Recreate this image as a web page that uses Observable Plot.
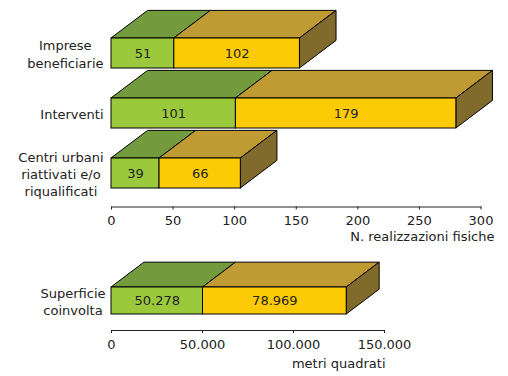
<!DOCTYPE html>
<html><head><meta charset="utf-8">
<script src="https://cdn.jsdelivr.net/npm/d3@7"></script>
<script src="https://cdn.jsdelivr.net/npm/@observablehq/plot@0.6"></script>
<style>
body{margin:0;background:#fff;font-family:"DejaVu Sans",Verdana,sans-serif;}
#chart svg{display:block;}
</style></head><body><div id="chart"></div>
<script>
// ---- data ----
const categories = ["Imprese\nbeneficiarie", "Interventi", "Centri urbani\nriattivati e/o\nriqualificati"];
const series1 = [51, 101, 39];
const series2 = [102, 179, 66];
const xTicks = [0, 50, 100, 150, 200, 250, 300];
const xLabel = "N. realizzazioni fisiche";

const surfaceCategories = ["Superficie\ncoinvolta"];
const surface1 = [50278];
const surface2 = [78969];
const surfaceTicks = [0, 50000, 100000, 150000];
const surfaceLabel = "metri quadrati";

// ---- styles ----
const frontColors = ["#9aca3c", "#fccb05"];
const topColors = ["#739b3e", "#c09a32"];
const sideColor = "#806b2c";
const FONT = "13px 'DejaVu Sans'";

const it = d3.formatLocale({decimal: ",", thousands: ".", grouping: [3], currency: ["€", ""]});
const fmt = it.format(",d");

function stackRows(cats, a, b) {
  const rows = [];
  cats.forEach((c, i) => {
    let x0 = 0;
    [a[i], b[i]].forEach((v, k) => {
      rows.push({cat: c, k, value: v, x1: x0, x2: x0 + v, last: k === 1});
      x0 += v;
    });
  });
  return rows;
}

function depthFaces(rows) {
  return (index, scales) => {
    const {x, y} = scales;
    const bw = y.bandwidth();
    const dx = bw * 1.22, dy = bw * 0.92;
    const g = d3.create("svg:g").attr("stroke", "#000").attr("stroke-width", 1).attr("stroke-linejoin", "round");
    for (const r of rows) {
      const xa = x(r.x1), xb = x(r.x2), yt = y(r.cat), yb = yt + bw;
      g.append("path").attr("fill", topColors[r.k])
        .attr("d", `M${xa},${yt}L${xb},${yt}L${xb + dx},${yt - dy}L${xa + dx},${yt - dy}Z`);
      if (r.last) g.append("path").attr("fill", sideColor)
        .attr("d", `M${xb},${yt}L${xb + dx},${yt - dy}L${xb + dx},${yb - dy}L${xb},${yb}Z`);
    }
    return g.node();
  };
}

const ctx = document.createElement("canvas").getContext("2d");
ctx.font = FONT;
const textWidth = s => d3.max(s.split("\n"), l => ctx.measureText(l).width);

function panel({cats, a, b, ticks, label, height, marginRight, marginBottom, yRange, paddingInner, gap, labelDx, labelDy}) {
  const rows = stackRows(cats, a, b);
  return Plot.plot({
    width: 508,
    height,
    marginLeft: 111,
    marginRight,
    marginTop: 0,
    marginBottom,
    style: {fontSize: "13px", fontFamily: "'DejaVu Sans', Verdana, sans-serif", color: "#222", background: "#fff"},
    x: {domain: [ticks[0], ticks[ticks.length - 1]], ticks, tickFormat: fmt, line: true, label: null, tickSize: 3, tickPadding: 6},
    y: {domain: cats, range: yRange, paddingInner, paddingOuter: 0, axis: null},
    marks: [
      depthFaces(rows),
      Plot.barX(rows.filter(d => d.k === 0), {x1: "x1", x2: "x2", y: "cat", fill: frontColors[0], stroke: "#000", strokeWidth: 1}),
      Plot.barX(rows.filter(d => d.k === 1), {x1: "x1", x2: "x2", y: "cat", fill: frontColors[1], stroke: "#000", strokeWidth: 1}),
      Plot.text(rows, {x: d => (d.x1 + d.x2) / 2, y: "cat", text: d => fmt(d.value), fill: "#222", fontSize: 13}),
      ...cats.map(c => Plot.text([c], {y: d => d, text: d => d, frameAnchor: "left", textAnchor: "middle",
        dx: -gap - textWidth(c) / 2, lineHeight: 1.33, fill: "#222", fontSize: 13})),
      Plot.text([label], {text: d => d, frameAnchor: "bottom-right", textAnchor: "end", dx: labelDx, dy: labelDy, fill: "#222", fontSize: 13})
    ]
  });
}

const root = document.getElementById("chart");
root.appendChild(panel({
  cats: categories, a: series1, b: series2, ticks: xTicks, label: xLabel,
  height: 252, marginRight: 27.5, marginBottom: 45.5, yRange: [37.3, 189.3], paddingInner: 0.5,
  gap: 8, labelDx: 13.5, labelDy: 34
}));
root.appendChild(panel({
  cats: surfaceCategories, a: surface1, b: surface2, ticks: surfaceTicks, label: surfaceLabel,
  height: 124, marginRight: 124, marginBottom: 46, yRange: [35.3, 62.3], paddingInner: 0,
  gap: 6, labelDx: 1, labelDy: 37
}));
</script>
</body></html>
